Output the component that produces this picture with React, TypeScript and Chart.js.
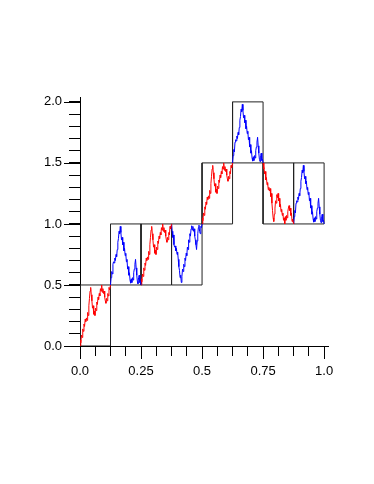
import React, { useEffect, useRef } from "react";
import { Chart, registerables } from "chart.js";

Chart.register(...registerables);

// Base "red" (rising) piece: relative position t in [0,1], relative height v in [0,1]
const redT = [0, 0.02, 0.03, 0.05, 0.07, 0.09, 0.11, 0.13, 0.15, 0.17, 0.19, 0.21, 0.23, 0.25, 0.27, 0.29, 0.31, 0.33, 0.35, 0.37, 0.39, 0.41, 0.43, 0.45, 0.47, 0.49, 0.51, 0.53, 0.55, 0.57, 0.59, 0.61, 0.63, 0.65, 0.67, 0.69, 0.71, 0.73, 0.75, 0.77, 0.79, 0.81, 0.83, 0.85, 0.87, 0.89, 0.91, 0.93, 0.95, 0.97, 1.0];
const redV = [0, 0.10, 0.05, 0.18, 0.14, 0.28, 0.24, 0.36, 0.32, 0.44, 0.40, 0.46, 0.42, 0.55, 0.50, 0.66, 0.78, 0.90, 0.96, 0.84, 0.74, 0.62, 0.66, 0.52, 0.57, 0.50, 0.62, 0.58, 0.72, 0.68, 0.80, 0.76, 0.86, 0.82, 0.94, 0.90, 1.00, 0.88, 0.94, 0.86, 0.90, 0.80, 0.74, 0.70, 0.78, 0.74, 0.86, 0.82, 0.96, 0.92, 1.0];

// Base "blue" (up-and-back) piece
const blueT = [0, 0.02, 0.04, 0.06, 0.08, 0.10, 0.12, 0.14, 0.16, 0.18, 0.20, 0.22, 0.24, 0.26, 0.28, 0.30, 0.32, 0.34, 0.36, 0.38, 0.40, 0.42, 0.44, 0.46, 0.48, 0.50, 0.52, 0.54, 0.56, 0.58, 0.60, 0.62, 0.64, 0.66, 0.68, 0.70, 0.72, 0.74, 0.76, 0.78, 0.80, 0.82, 0.84, 0.86, 0.88, 0.90, 0.92, 0.94, 0.96, 0.98, 1.0];
const blueV = [0, 0.12, 0.22, 0.18, 0.34, 0.38, 0.36, 0.44, 0.40, 0.50, 0.46, 0.58, 0.70, 0.76, 0.88, 0.84, 0.96, 0.86, 0.74, 0.78, 0.66, 0.70, 0.56, 0.60, 0.48, 0.52, 0.38, 0.42, 0.26, 0.30, 0.16, 0.20, 0.08, 0.03, 0.10, 0.04, 0.12, 0.08, 0.20, 0.26, 0.34, 0.42, 0.28, 0.16, 0.06, 0.02, 0.12, 0.16, 0.04, 0.06, 0];

// Segments
const segmentX0 = [0, 0.125, 0.25, 0.375, 0.5, 0.625, 0.75, 0.875];
const segmentY0 = [0, 0.5, 0.5, 1.0, 1.0, 1.5, 1.5, 1.0];
const segmentShape = ["red", "blue", "red", "blue", "red", "blue", "red", "blue"];
const segmentDir = [1, 1, 1, -1, 1, 1, -1, 1];
const segmentWidth = 0.125;
const segmentHeight = 0.5;

// Boxes
const boxX0 = [0, 0.125, 0.25, 0.375, 0.5, 0.625, 0.75, 0.875];
const boxY0 = [0, 0.5, 0.5, 0.5, 1.0, 1.5, 1.0, 1.0];

// Ticks
const xTickValues = [0, 0.0625, 0.125, 0.1875, 0.25, 0.3125, 0.375, 0.4375, 0.5, 0.5625, 0.625, 0.6875, 0.75, 0.8125, 0.875, 0.9375, 1.0];
const xMajorTicks = [0, 0.25, 0.5, 0.75, 1.0];
const xTickLabels = ["0.0", "0.25", "0.5", "0.75", "1.0"];
const yTickValues = [0, 0.1, 0.2, 0.3, 0.4, 0.5, 0.6, 0.7, 0.8, 0.9, 1.0, 1.1, 1.2, 1.3, 1.4, 1.5, 1.6, 1.7, 1.8, 1.9, 2.0];
const yMajorTicks = [0, 0.5, 1.0, 1.5, 2.0];
const yTickLabels = ["0.0", "0.5", "1.0", "1.5", "2.0"];

const X_MAX = 1.016;
const Y_MAX = 2.04;

const FONT = "'Liberation Sans', Arial, sans-serif";

function labelFor(value: number, majors: number[], labels: string[]) {
  const i = majors.findIndex((m) => Math.abs(m - value) < 1e-9);
  return i >= 0 ? labels[i] : "";
}

const majorTickPlugin = {
  id: "majorTicks",
  afterDraw(chart: any) {
    const ctx = chart.ctx;
    const xs = chart.scales.x;
    const ys = chart.scales.y;
    ctx.save();
    ctx.strokeStyle = "#000";
    ctx.lineWidth = 1;
    ctx.beginPath();
    for (const v of yMajorTicks) {
      const py = Math.round(ys.getPixelForValue(v)) + 0.5;
      ctx.moveTo(xs.left - 16, py);
      ctx.lineTo(xs.left, py);
    }
    for (const v of xMajorTicks) {
      const px = Math.round(xs.getPixelForValue(v)) + 0.5;
      ctx.moveTo(px, ys.bottom);
      ctx.lineTo(px, ys.bottom + 13);
    }
    ctx.stroke();
    ctx.restore();
  },
};

export default function App() {
  const ref = useRef<HTMLCanvasElement | null>(null);

  useEffect(() => {
    if (!ref.current) return;
    const datasets: any[] = [];

    for (let s = 0; s < segmentX0.length; s++) {
      const isRed = segmentShape[s] === "red";
      const ts = isRed ? redT : blueT;
      const vs = isRed ? redV : blueV;
      const data = ts.map((t, i) => ({
        x: segmentX0[s] + t * segmentWidth,
        y: segmentY0[s] + segmentDir[s] * vs[i] * segmentHeight,
      }));
      datasets.push({
        data,
        borderColor: isRed ? "#ff0000" : "#0000ff",
        borderWidth: 1,
        pointRadius: 0,
        tension: 0,
        fill: false,
      });
    }

    for (let b = 0; b < boxX0.length; b++) {
      const x0 = boxX0[b];
      const x1 = x0 + segmentWidth;
      const y0 = boxY0[b];
      const y1 = y0 + segmentHeight;
      datasets.push({
        data: [
          { x: x0, y: y0 },
          { x: x1, y: y0 },
          { x: x1, y: y1 },
          { x: x0, y: y1 },
          { x: x0, y: y0 },
        ],
        borderColor: "#222",
        borderWidth: 1,
        pointRadius: 0,
        tension: 0,
        fill: false,
      });
    }

    const chart = new Chart(ref.current, {
      type: "line",
      data: { datasets },
      options: {
        responsive: false,
        animation: false,
        devicePixelRatio: 1,
        layout: { padding: { left: 0, right: 46, top: 97, bottom: 88 } },
        plugins: { legend: { display: false }, tooltip: { enabled: false } },
        scales: {
          x: {
            type: "linear",
            min: 0,
            max: X_MAX,
            afterBuildTicks: (scale: any) => {
              scale.ticks = xTickValues.map((v) => ({ value: v }));
            },
            afterFit: (scale: any) => {
              scale.height = 50;
            },
            ticks: {
              autoSkip: false,
              maxRotation: 0,
              padding: 8,
              color: "#000",
              font: { family: FONT, size: 13 },
              callback: (v: any) => labelFor(Number(v), xMajorTicks, xTickLabels),
            },
            grid: { drawOnChartArea: false, drawTicks: true, tickLength: 10, color: "#000", tickColor: "#000" },
            border: { display: true, color: "#000", width: 1 },
          },
          y: {
            type: "linear",
            min: 0,
            max: Y_MAX,
            afterBuildTicks: (scale: any) => {
              scale.ticks = yTickValues.map((v) => ({ value: v }));
            },
            afterFit: (scale: any) => {
              scale.width = 80;
            },
            ticks: {
              autoSkip: false,
              padding: 7,
              color: "#000",
              font: { family: FONT, size: 13 },
              callback: (v: any) => labelFor(Number(v), yMajorTicks, yTickLabels),
            },
            grid: { drawOnChartArea: false, drawTicks: true, tickLength: 11, color: "#000", tickColor: "#000" },
            border: { display: true, color: "#000", width: 1 },
          },
        },
      },
      plugins: [majorTickPlugin],
    } as any);

    return () => chart.destroy();
  }, []);

  return (
    <canvas
      ref={ref}
      width={374}
      height={484}
      style={{ position: "fixed", left: 0, top: 0, width: 374, height: 484 }}
    />
  );
}
